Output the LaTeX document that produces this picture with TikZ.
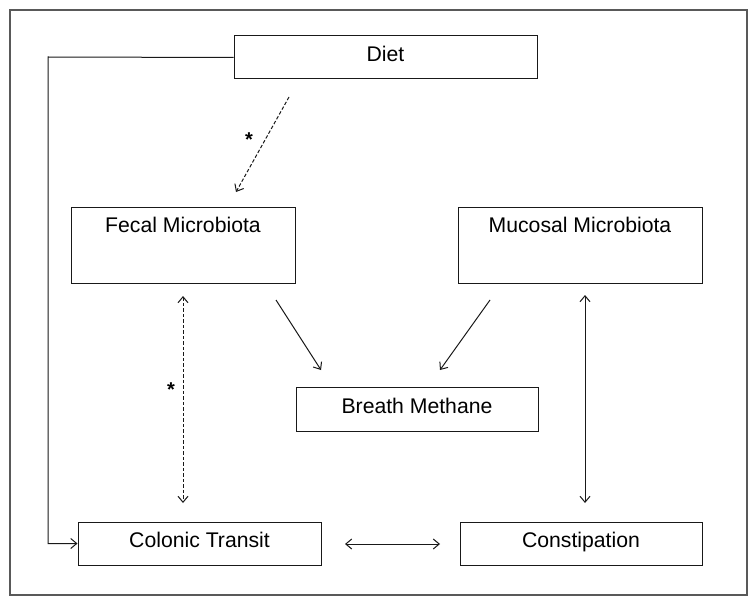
\documentclass[tikz,border=0pt]{standalone}
\usepackage{fontspec}
\setmainfont{Liberation Sans}
\usetikzlibrary{arrows.meta}
\begin{document}
\begin{tikzpicture}[x=1pt,y=-1pt,
  box/.style={draw=black!90, line width=1pt, rectangle, inner sep=0pt},
  lbl/.style={inner sep=0pt, text height=15.3pt, text depth=4.5pt, font=\fontsize{21.2}{25}\selectfont},
  starlbl/.style={inner sep=0pt, font=\fontsize{20}{22}\selectfont\bfseries},
  con/.style={draw=black!90, line width=1pt},
  onetip/.style={-{Straight Barb[length=6pt,width=10pt]}},
  twotip/.style={{Straight Barb[length=6pt,width=10pt]}-{Straight Barb[length=6pt,width=10pt]}},
  dashline/.style={dash pattern=on 3.5pt off 2pt}
]
\useasboundingbox (0,0) rectangle (754,604);
\draw[draw=black!65, line width=1.4pt] (10,10) rectangle (747,595);

% boxes
\node[box, minimum width=303, minimum height=43] (diet) at (385.5,57.5) {};
\node[lbl] (diett) at (385.5,56.2) {Diet};
\node[box, minimum width=224, minimum height=76] (fecal) at (183,245) {};
\node[lbl] (fecalt) at (183,227.2) {Fecal Microbiota};
\node[box, minimum width=244, minimum height=76] (mucosal) at (580,245) {};
\node[lbl] (mucosalt) at (580,227.2) {Mucosal Microbiota};
\node[box, minimum width=242, minimum height=44] (breath) at (417,409) {};
\node[lbl] (breatht) at (417,408.2) {Breath Methane};
\node[box, minimum width=243, minimum height=43] (colonic) at (199.5,543.5) {};
\node[lbl] (colonict) at (199.5,542.2) {Colonic Transit};
\node[box, minimum width=242, minimum height=43] (constip) at (581,543.5) {};
\node[lbl] (constipt) at (581,542.2) {Constipation};

% coordinates for free ends
\coordinate (d1) at (289,97);
\coordinate (d2) at (236,192);
\coordinate (f1) at (183,296);
\coordinate (f2) at (183,503);
\coordinate (b1) at (276,300);
\coordinate (b2) at (321,370);
\coordinate (m1) at (490,300);
\coordinate (m2) at (440,370);
\coordinate (c1) at (585,295);
\coordinate (c2) at (585,503);
\coordinate (h1) at (345,544);
\coordinate (h2) at (440,544);
\coordinate (corner) at (48,57);

% connectors
\draw[con, onetip] (diet.west) -- (corner) |- (colonic.west);
\draw[con, onetip, dashline] (d1) -- (d2);
\node[starlbl] (star1) at (249,140) {*};
\draw[con, twotip, dashline] (f1) -- (f2);
\node[starlbl] (star2) at (171,390) {*};
\draw[con, onetip] (b1) -- (b2);
\draw[con, onetip] (m1) -- (m2);
\draw[con, twotip] (c1) -- (c2);
\draw[con, twotip] (h1) -- (h2);
\end{tikzpicture}
\end{document}
